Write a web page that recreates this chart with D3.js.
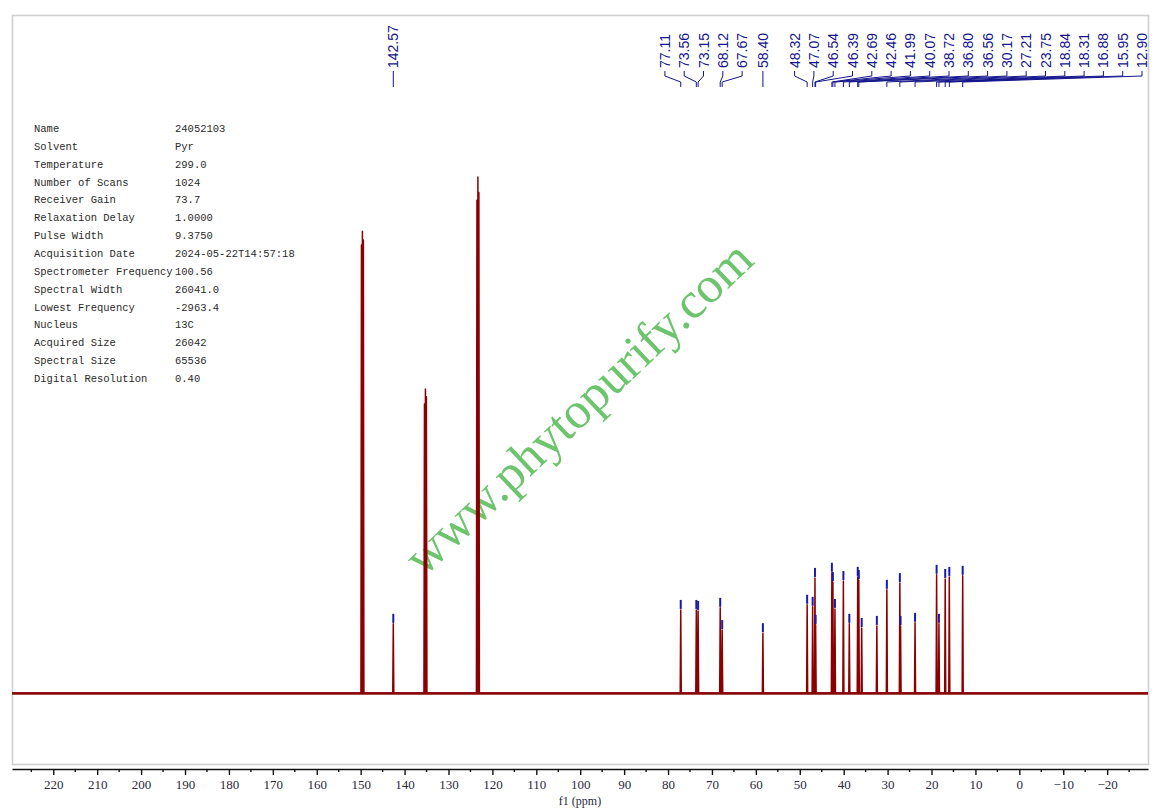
<!DOCTYPE html>
<html>
<head>
<meta charset="utf-8">
<script src="https://cdn.jsdelivr.net/npm/d3@7"></script>
<style>
  body { margin: 0; background: #fff; }
  svg { display: block; }
</style>
</head>
<body>
<div id="chart"></div>
<script>
// solvent (pyridine) triplets, unlabelled
const solventPpm = [149.82, 149.60, 149.38, 135.47, 135.25, 135.03, 123.52, 123.30, 123.08];
const solventInt = [86.8, 89.5, 87.8, 56.0, 58.9, 57.4, 95.5, 100, 97.0];

// sample peaks (ppm, relative intensity)
const peakPpm = [142.57, 77.11, 73.56, 73.15, 68.12, 67.67, 58.40, 48.32, 47.07, 46.54, 46.39,
  42.69, 42.46, 41.99, 40.07, 38.72, 36.80, 36.56, 35.90, 32.45, 30.17, 27.21, 27.05,
  23.75, 18.84, 18.31, 16.88, 15.95, 12.90];
const peakInt = [13.4, 16.1, 16.1, 15.9, 16.5, 12.2, 11.6, 17.1, 16.7, 22.3, 13.2,
  23.3, 21.5, 16.3, 21.7, 13.4, 22.5, 21.9, 12.6, 13.0, 20.0, 21.3, 13.0,
  13.6, 22.9, 13.4, 22.1, 22.5, 22.7];

// peak labels at the top
const labelValues = ["142.57", "77.11", "73.56", "73.15", "68.12", "67.67", "58.40", "48.32",
  "47.07", "46.54", "46.39", "42.69", "42.46", "41.99", "40.07", "38.72", "36.80", "36.56",
  "30.17", "27.21", "23.75", "18.84", "18.31", "16.88", "15.95", "12.90"];

// acquisition parameters
const paramNames = ["Name", "Solvent", "Temperature", "Number of Scans", "Receiver Gain",
  "Relaxation Delay", "Pulse Width", "Acquisition Date", "Spectrometer Frequency",
  "Spectral Width", "Lowest Frequency", "Nucleus", "Acquired Size", "Spectral Size",
  "Digital Resolution"];
const paramValues = ["24052103", "Pyr", "299.0", "1024", "73.7", "1.0000", "9.3750",
  "2024-05-22T14:57:18", "100.56", "26041.0", "-2963.4", "13C", "26042", "65536", "0.40"];

const majorTicks = [220, 210, 200, 190, 180, 170, 160, 150, 140, 130, 120, 110, 100,
  90, 80, 70, 60, 50, 40, 30, 20, 10, 0, -10, -20];
const minorTicks = [225, 215, 205, 195, 185, 175, 165, 155, 145, 135, 125, 115, 105,
  95, 85, 75, 65, 55, 45, 35, 25, 15, 5, -5, -15, -25];

const width = 1161, height = 811;
const plotLeft = 12, plotRight = 1148, plotTop = 15, plotBottom = 764;
const GAP = 19.3, LABEL_RIGHT = 1142;

const svg = d3.select("#chart").append("svg")
    .attr("width", width)
    .attr("height", height);

const x = d3.scaleLinear()
    .domain([229.4, -29.3])
    .range([plotLeft, plotRight]);

const y = d3.scaleLinear()
    .domain([0, 100])
    .range([693, 177]);

svg.append("defs").append("clipPath")
    .attr("id", "plot-clip")
    .append("rect")
    .attr("x", plotLeft)
    .attr("y", plotTop)
    .attr("width", plotRight - plotLeft)
    .attr("height", plotBottom - plotTop);

// frame
svg.append("rect")
    .attr("x", plotLeft + 0.5)
    .attr("y", plotTop + 0.5)
    .attr("width", plotRight - plotLeft)
    .attr("height", plotBottom - plotTop)
    .attr("fill", "none")
    .attr("stroke", "#cfcfcf")
    .attr("stroke-width", 1.6);

// parameter table
const table = svg.append("g")
    .style("font-family", "'Liberation Mono', 'DejaVu Sans Mono', monospace")
    .style("font-size", "10.5px")
    .style("fill", "#2a2a2a");

table.selectAll(".pname")
    .data(paramNames)
    .enter().append("text")
    .attr("class", "pname")
    .attr("x", 34)
    .attr("y", (d, i) => 132 + i * 17.85)
    .text(d => d);

table.selectAll(".pval")
    .data(paramValues)
    .enter().append("text")
    .attr("class", "pval")
    .attr("x", 175)
    .attr("y", (d, i) => 132 + i * 17.85)
    .text(d => d);

// watermark
svg.append("text")
    .attr("transform", "translate(590,420) rotate(-43.5)")
    .attr("text-anchor", "middle")
    .style("font-family", "'Liberation Serif', 'DejaVu Serif', serif")
    .style("font-size", "51px")
    .style("fill", "#6cc46c")
    .text("www.phytopurify.com");

// spectrum
const hw = 0.12;
const allPeaks = solventPpm.map((p, i) => ({ ppm: p, val: solventInt[i] }))
    .concat(peakPpm.map((p, i) => ({ ppm: p, val: peakInt[i] })))
    .sort((a, b) => b.ppm - a.ppm);

const pts = [[x.domain()[0], 0]];
allPeaks.forEach(p => {
    pts.push([p.ppm + hw, 0], [p.ppm, p.val], [p.ppm - hw, 0]);
});
pts.push([x.domain()[1], 0]);

const line = d3.line()
    .x(d => x(d[0]))
    .y(d => y(d[1]));

const plot = svg.append("g").attr("clip-path", "url(#plot-clip)");

// thicker baseline band
plot.append("line")
    .attr("x1", x(x.domain()[0]))
    .attr("x2", x(x.domain()[1]))
    .attr("y1", y(0) + 0.5)
    .attr("y2", y(0) + 0.5)
    .attr("stroke", "#8b1010")
    .attr("stroke-width", 2.6);

plot.append("path")
    .datum(pts)
    .attr("d", line)
    .attr("fill", "none")
    .attr("stroke", "#8b0000")
    .attr("stroke-width", 1.5)
    .attr("stroke-linejoin", "round");

// peak top markers
plot.selectAll(".marker")
    .data(peakPpm)
    .enter().append("line")
    .attr("class", "marker")
    .attr("x1", d => x(d))
    .attr("x2", d => x(d))
    .attr("y1", (d, i) => y(peakInt[i]) - 1)
    .attr("y2", (d, i) => y(peakInt[i]) - 10)
    .attr("stroke", "#1a1aa8")
    .attr("stroke-width", 2);

// peak labels, spread to avoid overlap
function placeLabels(px) {
    const groups = [];
    px.forEach((p, i) => {
        const g = groups[groups.length - 1];
        if (g && p - px[g[g.length - 1]] < 1.5 * GAP) g.push(i);
        else groups.push([i]);
    });
    const out = new Array(px.length);
    let prevEnd = -Infinity;
    groups.forEach(g => {
        const span = (g.length - 1) * GAP;
        let start = d3.mean(g, i => px[i]) - span / 2;
        if (start < prevEnd + GAP) start = Math.max(prevEnd + GAP, px[g[0]]);
        if (start + span > LABEL_RIGHT) start = LABEL_RIGHT - span;
        g.forEach((i, k) => { out[i] = start + k * GAP; });
        prevEnd = start + span;
    });
    return out;
}

const peakX = labelValues.map(v => x(+v));
const labelX = placeLabels(peakX);

const labels = svg.append("g").attr("clip-path", "url(#plot-clip)");

labels.selectAll(".connector")
    .data(labelValues)
    .enter().append("path")
    .attr("class", "connector")
    .attr("d", (d, i) => `M${labelX[i]},71 L${labelX[i]},76 L${peakX[i]},82 L${peakX[i]},87`)
    .attr("fill", "none")
    .attr("stroke", "#14148c")
    .attr("stroke-width", 1);

labels.selectAll(".plabel")
    .data(labelValues)
    .enter().append("text")
    .attr("class", "plabel")
    .attr("transform", (d, i) => `translate(${labelX[i]},68) rotate(-90)`)
    .attr("dy", "0.36em")
    .style("font-family", "'Liberation Sans', Arial, sans-serif")
    .style("font-size", "14px")
    .style("fill", "#14148c")
    .text(d => d);

// x axis
const axis = d3.axisBottom(x)
    .tickValues(majorTicks)
    .tickSize(6)
    .tickSizeOuter(0)
    .tickPadding(5);

const axisG = svg.append("g")
    .attr("transform", "translate(0,769)")
    .call(axis);

axisG.select(".domain").attr("stroke", "#111").attr("stroke-width", 1.6);
axisG.selectAll(".tick line").attr("stroke", "#111").attr("stroke-width", 1.4);
axisG.selectAll(".tick text")
    .style("font-family", "'Liberation Serif', 'DejaVu Serif', serif")
    .style("font-size", "13px")
    .style("fill", "#2a2a3a");

axisG.selectAll(".minor")
    .data(minorTicks)
    .enter().append("line")
    .attr("class", "minor")
    .attr("x1", d => x(d))
    .attr("x2", d => x(d))
    .attr("y1", 0)
    .attr("y2", 3)
    .attr("stroke", "#111")
    .attr("stroke-width", 1.4);

svg.append("text")
    .attr("x", (plotLeft + plotRight) / 2)
    .attr("y", 805)
    .attr("text-anchor", "middle")
    .style("font-family", "'Liberation Serif', 'DejaVu Serif', serif")
    .style("font-size", "12px")
    .style("fill", "#2a2a3a")
    .text("f1 (ppm)");
</script>
</body>
</html>
